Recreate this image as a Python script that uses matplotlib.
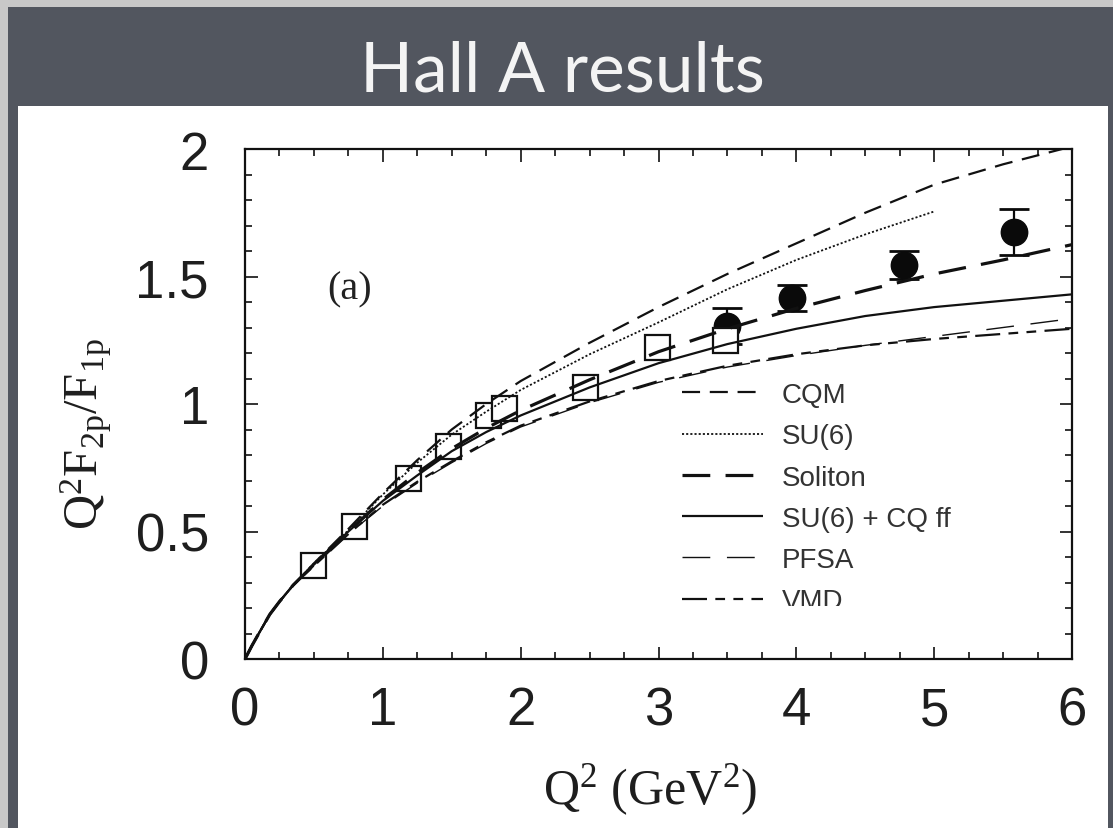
import matplotlib
matplotlib.use("Agg")
import matplotlib.pyplot as plt
from matplotlib.patches import Rectangle
from matplotlib.ticker import MultipleLocator

plt.rcParams["lines.scale_dashes"] = False
plt.rcParams["mathtext.fontset"] = "custom"
plt.rcParams["mathtext.rm"] = "Liberation Serif"
plt.rcParams["mathtext.it"] = "Liberation Serif:italic"

# ---- data -------------------------------------------------------------
# Hall A recoil polarization, older set (open squares)
q2_old = [0.49, 0.79, 1.18, 1.47, 1.76, 1.88, 2.47, 2.99, 3.48]
r_old = [0.37, 0.52, 0.71, 0.835, 0.955, 0.985, 1.065, 1.225, 1.25]

# Hall A newer set (filled circles) with errors
q2_new = [3.50, 3.97, 4.78, 5.58]
r_new = [1.305, 1.415, 1.545, 1.675]
err_new = [0.07, 0.05, 0.055, 0.09]

# model curves, Q^2 grid
q2_grid = [0, 0.05, 0.1, 0.18, 0.25, 0.35, 0.5, 0.75, 1.0, 1.25, 1.5, 1.75,
           2.0, 2.5, 3.0, 3.5, 4.0, 4.5, 5.0, 5.5, 6.0]
cqm = [0, 0.052, 0.1, 0.175, 0.225, 0.29, 0.375, 0.51, 0.65, 0.78, 0.90,
       1.00, 1.09, 1.24, 1.38, 1.51, 1.63, 1.75, 1.86, 1.94, 2.01]
su6 = [0, 0.052, 0.1, 0.175, 0.225, 0.29, 0.375, 0.505, 0.645, 0.77,
       0.88, 0.97, 1.055, 1.195, 1.32, 1.45, 1.565, 1.665, 1.755]
soliton = [0, 0.052, 0.1, 0.175, 0.225, 0.29, 0.37, 0.50, 0.625, 0.73,
           0.825, 0.905, 0.975, 1.095, 1.205, 1.295, 1.375, 1.445, 1.51,
           1.565, 1.625]
su6_cqff = [0, 0.052, 0.1, 0.175, 0.225, 0.29, 0.37, 0.50, 0.62, 0.72,
            0.815, 0.89, 0.955, 1.065, 1.16, 1.235, 1.295, 1.345, 1.38,
            1.405, 1.43]
pfsa = [0, 0.052, 0.1, 0.175, 0.225, 0.29, 0.365, 0.49, 0.60, 0.69, 0.77,
        0.845, 0.91, 1.005, 1.085, 1.145, 1.19, 1.23, 1.265, 1.30, 1.335]
vmd = [0, 0.052, 0.1, 0.175, 0.225, 0.29, 0.365, 0.49, 0.605, 0.695,
       0.775, 0.85, 0.915, 1.01, 1.09, 1.15, 1.195, 1.23, 1.255, 1.275,
       1.295]

x_ticks = [0, 1, 2, 3, 4, 5, 6]
y_ticks = [0, 0.5, 1, 1.5, 2]
y_tick_labels = ["0", "0.5", "1", "1.5", "2"]

# ---- figure & slide background -----------------------------------------
W, H = 1113, 829
fig = plt.figure(figsize=(W / 100, H / 100), dpi=100)
fig.patch.set_facecolor("#c8c8c8")


def px_rect(x0, y0, x1, y1, color, z):
    """Rectangle given in pixel coordinates (origin top-left)."""
    r = Rectangle((x0 / W, 1 - y1 / H), (x1 - x0) / W, (y1 - y0) / H,
                  transform=fig.transFigure, facecolor=color,
                  edgecolor="none", zorder=z)
    fig.add_artist(r)
    return r


px_rect(8, 8, W, H, "#52565f", -10)        # dark slide
px_rect(18, 107, 1108, H, "#ffffff", -9)   # white panel

fig.text(562 / W, 1 - 92 / H, "Hall A results", color="#f4f4f4",
         fontsize=50, family="Lato", ha="center", va="baseline")

# ---- axes -------------------------------------------------------------
ax = fig.add_axes([245 / W, 1 - 660 / H, 827 / W, 510 / H])
ax.set_xlim(0, 6)
ax.set_ylim(0, 2)

for s in ax.spines.values():
    s.set_linewidth(1.6)
    s.set_color("#111111")

ax.xaxis.set_major_locator(MultipleLocator(1))
ax.xaxis.set_minor_locator(MultipleLocator(0.25))
ax.yaxis.set_major_locator(MultipleLocator(0.5))
ax.yaxis.set_minor_locator(MultipleLocator(0.1))
ax.tick_params(which="both", direction="in", top=True, right=True,
               width=1.2, color="#111111")
ax.tick_params(which="major", length=9)
ax.tick_params(which="minor", length=5)
ax.tick_params(axis="x", which="major", pad=19)
ax.tick_params(axis="y", which="major", pad=26)
ax.set_xticks(x_ticks)
ax.set_xticklabels([str(v) for v in x_ticks])
ax.set_yticks(y_ticks)
ax.set_yticklabels(y_tick_labels)
for lab in ax.get_xticklabels() + ax.get_yticklabels():
    lab.set_family("Liberation Sans")
    lab.set_fontsize(38)
    lab.set_color("#1e1e1e")

# ---- model curves -----------------------------------------------------
curve_kw = dict(color="#111111", zorder=4, solid_capstyle="butt",
                dash_capstyle="butt", solid_joinstyle="round")
ax.plot(q2_grid, cqm, lw=1.6, linestyle=(0, (13, 7)), label="CQM", **curve_kw)
ax.plot(q2_grid[:len(su6)], su6, lw=1.3, linestyle=(0, (1.5, 1.5)),
        label="SU(6)", **curve_kw)
ax.plot(q2_grid, soliton, lw=2.3, linestyle=(0, (20, 11)), label="Soliton",
        **curve_kw)
ax.plot(q2_grid, su6_cqff, lw=1.6, linestyle="-", label="SU(6) + CQ ff",
        **curve_kw)
ax.plot(q2_grid, pfsa, lw=1.0, linestyle=(0, (20, 12)), label="PFSA",
        **curve_kw)
ax.plot(q2_grid, vmd, lw=1.6, linestyle=(0, (18, 6, 7, 6, 7, 6)),
        label="VMD", **curve_kw)

# ---- data points ------------------------------------------------------
ax.errorbar(q2_new, r_new, yerr=err_new, fmt="o", ms=19, color="#0a0a0a",
            ecolor="#0a0a0a", elinewidth=1.6, capsize=11, capthick=2,
            zorder=2)
ax.plot(q2_old, r_old, "s", ms=18, mfc="white", mec="#111111", mew=1.6,
        linestyle="none", zorder=3)

ax.text(0.6, 1.45, "(a)", family="Liberation Serif", fontsize=29,
        color="#222222", ha="left", va="center")

# ---- legend -----------------------------------------------------------
leg = ax.legend(loc="upper left",
                bbox_to_anchor=(682 / W, 1 - 383 / H),
                bbox_transform=fig.transFigure, frameon=False,
                prop={"family": "Liberation Sans", "size": 20},
                handlelength=2.9, handletextpad=0.7, labelspacing=0.55,
                borderpad=0, borderaxespad=0)
for t in leg.get_texts():
    t.set_color("#333333")
leg.set_zorder(6)

# lower edge of the last legend row is cropped in the source figure
px_rect(672, 607, 1000, 640, "#ffffff", 10)

# ---- axis labels ------------------------------------------------------
fig.text(650 / W, 1 - 790 / H, r"Q$^{2}$ (GeV$^{2}$)",
         family="Liberation Serif", fontsize=36, color="#1e1e1e",
         ha="center", va="center")
fig.text(86 / W, 1 - 434 / H, r"Q$^{2}$F$_{\mathrm{2p}}$/F$_{\mathrm{1p}}$",
         family="Liberation Serif", fontsize=35, color="#1e1e1e",
         ha="center", va="center", rotation=90)

fig.savefig("out.png", dpi=100, facecolor=fig.get_facecolor())
